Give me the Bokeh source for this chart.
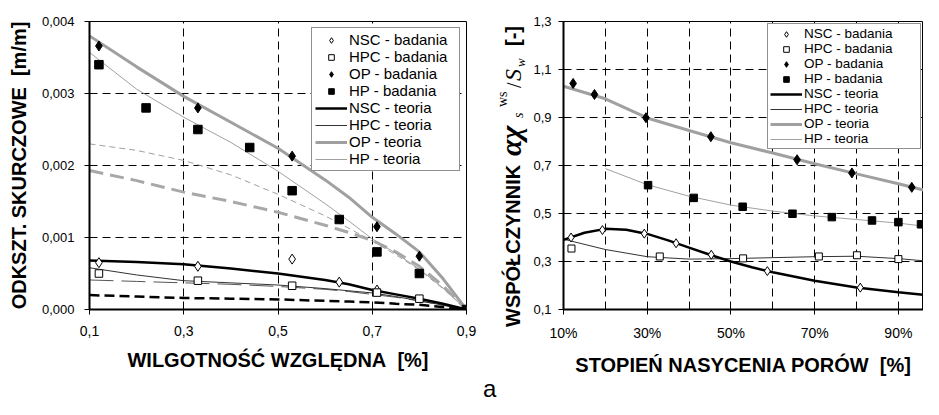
import math
from bokeh.plotting import figure
from bokeh.models import Range1d, FixedTicker, Legend, LegendItem, Div
from bokeh.layouts import row
from bokeh.embed import file_html
from bokeh.resources import INLINE

SANS = "Liberation Sans"
SERIF = "Liberation Serif"

# ---------------- left chart data (relative humidity -> shrinkage strain) ----
rh_ticks = [0.1, 0.3, 0.5, 0.7, 0.9]
rh_tick_labels = ["0,1", "0,3", "0,5", "0,7", "0,9"]
eps_ticks = [0, 0.001, 0.002, 0.003, 0.004]
eps_tick_labels = ["0,000", "0,001", "0,002", "0,003", "0,004"]

nsc_rh = [0.12, 0.33, 0.53, 0.63, 0.71]
nsc_eps = [0.00065, 0.00060, 0.00070, 0.00038, 0.00027]
hpc_rh = [0.12, 0.33, 0.53, 0.71, 0.80]
hpc_eps = [0.00050, 0.00040, 0.00033, 0.000235, 0.00015]
op_rh = [0.12, 0.33, 0.53, 0.71, 0.80]
op_eps = [0.00366, 0.00280, 0.00213, 0.00115, 0.00074]
hp_rh = [0.12, 0.22, 0.33, 0.44, 0.53, 0.63, 0.71, 0.80, 0.90]
hp_eps = [0.00340, 0.00280, 0.00250, 0.00225, 0.00165, 0.00125, 0.00080, 0.00050, 0.0]

teo_rh = [0.1, 0.2, 0.3, 0.4, 0.5, 0.6, 0.65, 0.7, 0.75, 0.8, 0.85, 0.9]
nsc_teo_eps = [0.00068, 0.00066, 0.00063, 0.00057, 0.00050, 0.00041, 0.00035, 0.00027, 0.00021, 0.00015, 0.00008, 0.0]
hpc_teo_eps = [0.00058, 0.00048, 0.00040, 0.00037, 0.00034, 0.00029, 0.00026, 0.00023, 0.00018, 0.00012, 0.00006, 0.0]
op_teo_eps = [0.00380, 0.00337, 0.00296, 0.00260, 0.00224, 0.00180, 0.00156, 0.00128, 0.00105, 0.00080, 0.00043, 0.0]
hp_teo_eps = [0.00357, 0.00306, 0.00267, 0.00232, 0.00192, 0.00147, 0.00123, 0.00098, 0.00078, 0.00056, 0.00030, 0.0]
# additional (dashed) model curves, not in legend
op_alt_eps = [0.00193, 0.00179, 0.00163, 0.00150, 0.00135, 0.00117, 0.00107, 0.00096, 0.00080, 0.00060, 0.00033, 0.0]
hp_alt_eps = [0.00230, 0.00221, 0.00207, 0.00187, 0.00160, 0.00130, 0.00113, 0.00095, 0.00076, 0.00055, 0.00029, 0.0]
hpc_alt_eps = [0.00041, 0.00039, 0.00037, 0.00035, 0.00032, 0.00028, 0.00025, 0.00021, 0.00017, 0.00012, 0.00006, 0.0]
nsc_alt_eps = [0.00020, 0.00018, 0.00016, 0.00015, 0.00014, 0.00012, 0.00011, 0.00010, 0.00008, 0.000065, 0.000035, 0.0]

# ---------------- right chart data (pore saturation [%] -> coefficient) ------
s_ticks = [10, 30, 50, 70, 90]
s_tick_labels = ["10%", "30%", "50%", "70%", "90%"]
s_grid = [20, 30, 40, 50, 60, 70, 80, 90]
k_ticks = [0.1, 0.3, 0.5, 0.7, 0.9, 1.1, 1.3]
k_tick_labels = ["0,1", "0,3", "0,5", "0,7", "0,9", "1,1", "1,3"]

op_s = [12.3, 17.4, 29.7, 45.2, 65.8, 78.9, 93.2]
op_k = [1.042, 0.996, 0.899, 0.820, 0.724, 0.669, 0.609]
hp_s = [30.2, 41.1, 52.8, 64.7, 74.1, 83.7, 90.0, 95.4]
hp_k = [0.618, 0.565, 0.528, 0.499, 0.485, 0.471, 0.464, 0.455]
nsc_s = [11.8, 19.3, 29.3, 36.9, 45.3, 58.7, 80.9]
nsc_k = [0.400, 0.431, 0.416, 0.376, 0.328, 0.260, 0.191]
hpc_s = [11.9, 33.0, 52.9, 71.0, 80.1, 90.0]
hpc_k = [0.354, 0.321, 0.313, 0.321, 0.326, 0.310]

op_teo_s = [10, 20, 30, 40, 50, 60, 70, 80, 90, 98]
op_teo_k = [1.030, 0.978, 0.898, 0.846, 0.795, 0.752, 0.707, 0.665, 0.624, 0.589]
hp_teo_s = [20, 30, 40, 50, 60, 70, 80, 90, 98]
hp_teo_k = [0.687, 0.620, 0.572, 0.535, 0.510, 0.490, 0.475, 0.460, 0.443]
nsc_teo_s = [10, 15, 20, 25, 30, 35, 40, 45, 50, 55, 60, 70, 80, 90, 98]
nsc_teo_k = [0.390, 0.420, 0.436, 0.432, 0.415, 0.388, 0.358, 0.328, 0.300, 0.276,
             0.255, 0.220, 0.192, 0.172, 0.158]
hpc_teo_s = [10, 20, 30, 40, 50, 60, 70, 80, 90, 98]
hpc_teo_k = [0.393, 0.350, 0.320, 0.310, 0.312, 0.316, 0.320, 0.322, 0.312, 0.300]

legend_labels = ["NSC - badania", "HPC - badania", "OP - badania", "HP - badania",
                 "NSC - teoria", "HPC - teoria", "OP - teoria", "HP - teoria"]

GRAY = "#a0a0a0"
DASH = "8 5"
H = 399


def base_style(p, label_standoff_x, label_standoff_y):
    p.background_fill_color = "white"
    p.border_fill_color = "white"
    p.outline_line_color = "black"
    p.outline_line_width = 1
    for ax in (p.xaxis[0], p.yaxis[0]):
        ax.axis_line_width = 2
        ax.axis_line_color = "black"
        ax.major_tick_line_color = "black"
        ax.major_tick_line_width = 1
        ax.major_tick_out = 5
        ax.major_tick_in = 0
        ax.minor_tick_line_color = None
        ax.major_label_text_font = SANS
        ax.major_label_text_color = "black"
        ax.axis_label_text_font = SANS
        ax.axis_label_text_font_style = "bold"
        ax.axis_label_text_font_size = "20px"
        ax.axis_label_text_color = "black"
    p.xaxis[0].major_label_text_font_size = "14px"
    p.yaxis[0].major_label_text_font_size = "13px"
    p.xaxis[0].major_label_standoff = label_standoff_x
    p.yaxis[0].major_label_standoff = label_standoff_y
    for g in (p.xgrid[0], p.ygrid[0]):
        g.grid_line_color = "black"
        g.grid_line_width = 1
        g.grid_line_dash = DASH


def make_legend(items, font_size, label_width, margin, padding):
    leg = Legend(items=items, location="top_right")
    leg.margin = margin
    leg.padding = padding
    leg.spacing = 0
    leg.glyph_width = 32
    leg.glyph_height = 14
    leg.label_height = 14
    leg.label_width = label_width
    leg.label_standoff = 2
    leg.label_text_font = SANS
    leg.label_text_font_size = font_size
    leg.label_text_color = "black"
    leg.border_line_color = "#222222"
    leg.border_line_width = 1
    leg.background_fill_color = "white"
    leg.background_fill_alpha = 1
    return leg


# ============================ LEFT FIGURE ===================================
p1 = figure(width=483, height=H, x_range=Range1d(0.1, 0.9), y_range=Range1d(0, 0.004),
            output_backend="svg", toolbar_location=None,
            min_border_left=89, min_border_right=17, min_border_top=21, min_border_bottom=90)
base_style(p1, 11, 10)
p1.xaxis[0].ticker = FixedTicker(ticks=rh_ticks)
p1.xaxis[0].major_label_overrides = dict(zip(rh_ticks, rh_tick_labels))
p1.yaxis[0].ticker = FixedTicker(ticks=eps_ticks)
p1.yaxis[0].major_label_overrides = dict(zip(eps_ticks, eps_tick_labels))
p1.xgrid[0].ticker = FixedTicker(ticks=rh_ticks[1:-1])
p1.ygrid[0].ticker = FixedTicker(ticks=eps_ticks[1:-1])
p1.xaxis[0].axis_label = "WILGOTNOŚĆ WZGLĘDNA\u00a0 [%]"
p1.yaxis[0].axis_label = "ODKSZT. SKURCZOWE\u00a0 [m/m]"
p1.xaxis[0].axis_label_standoff = 10
p1.yaxis[0].axis_label_standoff = 9

p1.line(teo_rh, op_alt_eps, line_color="#a8a8a8", line_width=3, line_dash="14 7")
p1.line(teo_rh, hp_alt_eps, line_color=GRAY, line_width=1, line_dash="6 4")
p1.line(teo_rh, hpc_alt_eps, line_color="#555555", line_width=1, line_dash="24 8")
p1.line(teo_rh, nsc_alt_eps, line_color="black", line_width=2.5, line_dash="10 5")
l_op = p1.line(teo_rh, op_teo_eps, line_color=GRAY, line_width=3)
l_hp = p1.line(teo_rh, hp_teo_eps, line_color=GRAY, line_width=1)
l_hpc = p1.line(teo_rh, hpc_teo_eps, line_color="#333333", line_width=1)
l_nsc = p1.line(teo_rh, nsc_teo_eps, line_color="black", line_width=2.5)
m_nsc = p1.scatter(nsc_rh, nsc_eps, marker="diamond", size=10,
                   fill_color="white", line_color="black", line_width=1)
m_hpc = p1.scatter(hpc_rh, hpc_eps, marker="square", size=7.5,
                   fill_color="white", line_color="black", line_width=1)
m_op = p1.scatter(op_rh, op_eps, marker="diamond", size=10,
                  fill_color="black", line_color="black")
m_hp = p1.scatter(hp_rh, hp_eps, marker="square", size=8.5,
                  fill_color="black", line_color="black")

rends1 = [m_nsc, m_hpc, m_op, m_hp, l_nsc, l_hpc, l_op, l_hp]
p1.add_layout(make_legend([LegendItem(label=t, renderers=[r]) for t, r in zip(legend_labels, rends1)],
                          "15px", 107, 6, 3))

# ============== rotated y-axis title of the right chart (HTML text) ==========
SW = 47


def piece(text, left, top, family, size, weight="normal", style="normal"):
    return ('<div style="position:absolute; left:%.1fpx; top:%.1fpx; '
            'transform:rotate(-90deg); transform-origin:0 0; white-space:nowrap; '
            "line-height:1; margin:0; padding:0; color:#000; font-family:'%s'; "
            'font-size:%spx; font-weight:%s; font-style:%s;">%s</div>'
            % (left, top, family, size, weight, style, text))


title_html = (
    '<div style="position:relative; width:%dpx; height:%dpx; margin:0; padding:0;">' % (SW, H)
    + piece("WSPÓŁCZYNNIK", 20.1, 327, SANS, 20, "bold")
    + piece("αχ", 12.6, 156, SERIF, 30, "bold", "italic")
    + piece("s", 29.2, 118, SERIF, 14, "normal", "italic")
    + piece("ws", 13.2, 107, SERIF, 14)
    + piece("/", 21.1, 88, SERIF, 20)
    + piece("S", 17.7, 81, SERIF, 24, "normal", "italic")
    + piece("w", 31.0, 67, SERIF, 13, "normal", "italic")
    + piece("[-]", 20.1, 46, SANS, 20, "bold")
    + '<div style="position:absolute; left:0px; top:377px; line-height:1; margin:0; '
      "padding:0; color:#000; font-family:'%s'; font-size:24px;\">a</div>" % SANS
    + '</div>'
)
title_div = Div(text=title_html, width=SW, height=H, margin=0)

# ============================ RIGHT FIGURE ==================================
p2 = figure(width=393, height=H, x_range=Range1d(10, 96), y_range=Range1d(0.1, 1.3),
            output_backend="svg", toolbar_location=None,
            min_border_left=32, min_border_right=0, min_border_top=21, min_border_bottom=88)
base_style(p2, 10, 7)
p2.xaxis[0].ticker = FixedTicker(ticks=s_ticks)
p2.xaxis[0].major_label_overrides = dict(zip(s_ticks, s_tick_labels))
p2.yaxis[0].ticker = FixedTicker(ticks=k_ticks)
p2.yaxis[0].major_label_overrides = dict(zip(k_ticks, k_tick_labels))
p2.xgrid[0].ticker = FixedTicker(ticks=s_grid)
p2.ygrid[0].ticker = FixedTicker(ticks=k_ticks[1:-1])
p2.xaxis[0].axis_label = "STOPIEŃ NASYCENIA PORÓW\u00a0 [%]"
p2.xaxis[0].axis_label_standoff = 10

r_op = p2.line(op_teo_s, op_teo_k, line_color=GRAY, line_width=3)
r_hp = p2.line(hp_teo_s, hp_teo_k, line_color=GRAY, line_width=1)
r_hpc = p2.line(hpc_teo_s, hpc_teo_k, line_color="#333333", line_width=1)
r_nsc = p2.line(nsc_teo_s, nsc_teo_k, line_color="black", line_width=2.5)
q_nsc = p2.scatter(nsc_s, nsc_k, marker="diamond", size=9,
                   fill_color="white", line_color="black", line_width=1)
q_hpc = p2.scatter(hpc_s, hpc_k, marker="square", size=7,
                   fill_color="white", line_color="black", line_width=1)
q_op = p2.scatter(op_s, op_k, marker="diamond", size=10,
                  fill_color="black", line_color="black")
q_hp = p2.scatter(hp_s, hp_k, marker="square", size=7.5,
                  fill_color="black", line_color="black")

rends2 = [q_nsc, q_hpc, q_op, q_hp, r_nsc, r_hpc, r_op, r_hp]
p2.add_layout(make_legend([LegendItem(label=t, renderers=[r]) for t, r in zip(legend_labels, rends2)],
                          "13.5px", 114, 2, 2))

layout = row(p1, title_div, p2)
open("out.html", "w").write(file_html(layout, INLINE))
